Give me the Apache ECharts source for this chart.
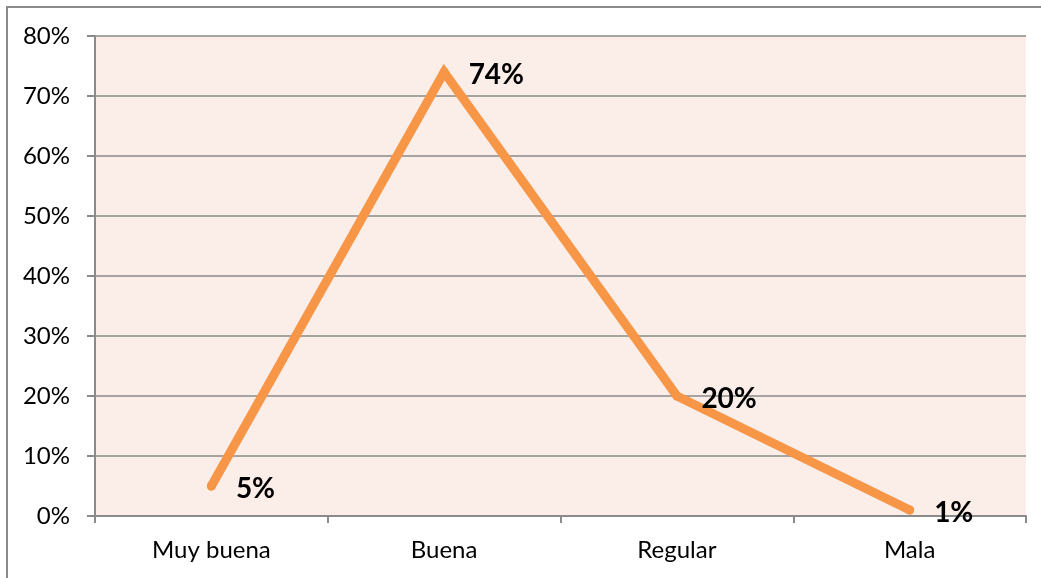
<!DOCTYPE html>
<html>
<head>
<meta charset="utf-8">
<script src="https://cdn.jsdelivr.net/npm/echarts@6/dist/echarts.min.js"></script>
<style>
  html, body { margin: 0; padding: 0; background: #ffffff; }
  #frame { position: absolute; left: 6px; top: 6px; width: 1100px; height: 700px; border-left: 2px solid #8a8a8a; border-top: 2px solid #8a8a8a; box-sizing: border-box; }
  #chart { position: absolute; left: 0; top: 0; width: 1041px; height: 578px; }
</style>
</head>
<body>
<div id="frame"></div>
<div id="chart"></div>
<script>
// Rating categories and their share of responses (percent)
const categories = ['Muy buena', 'Buena', 'Regular', 'Mala'];
const shares = [5, 74, 20, 1];
// Y axis range and step (percent)
const yMin = 0;
const yMax = 80;
const yStep = 10;

const chart = echarts.init(document.getElementById('chart'), null, { renderer: 'canvas' });
const font = 'Lato, "Open Sans", "Liberation Sans", sans-serif';

chart.setOption({
  animation: false,
  grid: { left: 95, right: 15, top: 36, bottom: 62, show: true, backgroundColor: '#FBEDE8', borderWidth: 0 },
  xAxis: {
    type: 'category',
    data: categories,
    boundaryGap: true,
    axisLine: { show: true, lineStyle: { color: '#8a8a8a', width: 2 } },
    axisTick: { show: true, length: 7, lineStyle: { color: '#8a8a8a', width: 2 } },
    axisLabel: { color: '#000', fontSize: 24, fontFamily: font, margin: 22 },
    splitLine: { show: false }
  },
  yAxis: {
    type: 'value',
    min: yMin,
    max: yMax,
    interval: yStep,
    axisLine: { show: true, lineStyle: { color: '#8a8a8a', width: 2 } },
    axisTick: { show: true, length: 8, lineStyle: { color: '#8a8a8a', width: 2 } },
    axisLabel: { color: '#000', fontSize: 24, fontFamily: font, margin: 25, formatter: v => v + '%' },
    splitLine: { show: true, lineStyle: { color: '#8a8a8a', width: 1.5 } }
  },
  series: [{
    type: 'line',
    data: shares,
    symbol: 'circle',
    symbolSize: 9,
    showSymbol: true,
    itemStyle: { color: '#F79646', borderWidth: 0 },
    lineStyle: { color: '#F79646', width: 9, cap: 'round', join: 'miter' },
    label: {
      show: true,
      position: 'right',
      distance: 20,
      offset: [0, 3],
      formatter: p => p.value + '%',
      color: '#000',
      fontSize: 28,
      fontWeight: 'bold',
      fontFamily: font
    }
  }]
});
</script>
</body>
</html>
